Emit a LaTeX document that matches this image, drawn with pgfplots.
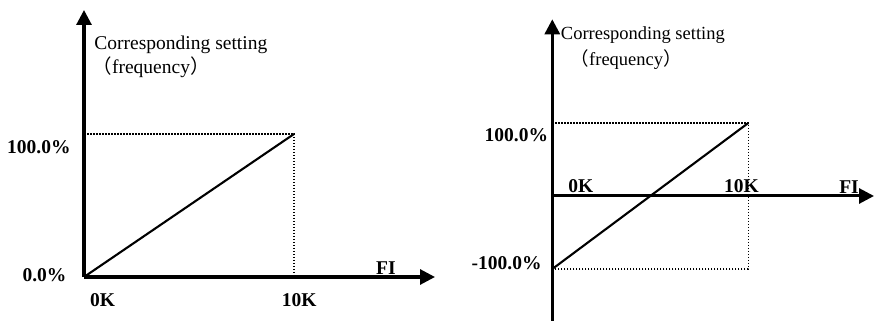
\documentclass[border=0pt]{standalone}
\usepackage{fontspec}
\setmainfont{Liberation Serif}
\newfontfamily\cjk{Noto Sans CJK SC}
\usepackage{pgfplots}
\pgfplotsset{compat=1.18}
\usetikzlibrary{arrows.meta}
\begin{document}
\begin{tikzpicture}
\tikzset{
  numlab/.style={inner sep=0pt, font=\fontsize{19.5bp}{22bp}\selectfont\bfseries},
  txtL/.style={inner sep=0pt, font=\fontsize{19.5bp}{22bp}\selectfont},
  txtR/.style={inner sep=0pt, font=\fontsize{18.5bp}{21bp}\selectfont},
  dotl/.style={black, line width=1.4bp, dash pattern=on 1.5bp off 1.5bp},
  datal/.style={black, line width=2.1bp},
}
\pgfplotsset{
  mychart/.style={
    scale only axis, clip=false,
    xtick=\empty, ytick=\empty,
    every outer x axis line/.append style={line width=3bp, -{Triangle[length=15bp,width=15bp]}},
    every outer y axis line/.append style={line width=3bp, -{Triangle[length=15bp,width=15bp]}},
    every inner x axis line/.append style={line width=3bp, -{Triangle[length=15bp,width=15bp]}},
    every inner y axis line/.append style={line width=3bp, -{Triangle[length=15bp,width=15bp]}},
  }
}
% ---------- left chart ----------
\begin{axis}[axis lines=left, mychart,
  at={(84bp,44bp)}, anchor=south west,
  width=351bp, height=267bp,
  xmin=0, xmax=16.714, ymin=0, ymax=186.71]
\addplot[dotl] coordinates {(0,100) (10,100) (10,0)};
\addplot[datal] coordinates {(0,0) (10,100)};
\node[txtL, anchor=base west] at (axis cs:0.49,158.74) {Corresponding setting};
\node[txtL, anchor=base west] at (axis cs:0.40,141.96) {{\cjk （}frequency{\cjk ）}};
\node[numlab, anchor=base east] at (axis cs:-0.633,86.5) {100.0\%};
\node[numlab, anchor=base east] at (axis cs:-0.824,-2.8) {0.0\%};
\node[numlab, anchor=base west] at (axis cs:0.286,-20.77) {0K};
\node[numlab, anchor=base west] at (axis cs:9.414,-20.77) {10K};
\node[numlab, anchor=base west] at (axis cs:13.905,1.89) {FI};
\end{axis}
% ---------- right chart ----------
\begin{axis}[axis lines=middle, mychart,
  at={(552.3bp,0bp)}, anchor=south west,
  width=321.7bp, height=301.7bp,
  xmin=0, xmax=16.413, ymin=-171.23, ymax=242.05]
\addplot[dotl] coordinates {(0,100) (10,100) (10,-100) (0,-100)};
\addplot[datal] coordinates {(0,-100) (10,100)};
\node[txtR, anchor=base west] at (axis cs:0.429,214.66) {Corresponding setting};
\node[txtR, anchor=base west] at (axis cs:0.929,178.5) {{\cjk （}frequency{\cjk ）}};
\node[numlab, anchor=base east] at (axis cs:-0.204,74.4) {100.0\%};
\node[numlab, anchor=base west] at (axis cs:0.816,5.07) {0K};
\node[numlab, anchor=base west] at (axis cs:8.76,5.07) {10K};
\node[numlab, anchor=base west] at (axis cs:14.63,3.7) {FI};
\node[numlab, anchor=base east] at (axis cs:-0.541,-100.4) {-100.0\%};
\end{axis}
\pgfresetboundingbox
\path (0,0) rectangle (874bp,321bp);
\end{tikzpicture}
\end{document}
